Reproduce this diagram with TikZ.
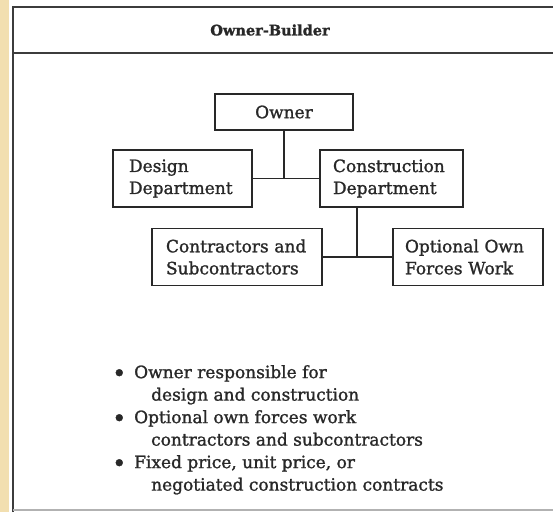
\documentclass[tikz,border=0pt]{standalone}
\usepackage{fontspec}
\setmainfont{DejaVu Serif}[RawFeature={embolden=1.3}]
\definecolor{tan}{RGB}{242,223,176}
\definecolor{ink}{RGB}{40,40,40}
\definecolor{rule}{RGB}{60,60,60}
\begin{document}
\begin{tikzpicture}[x=1pt,y=-1pt,
  box/.style={draw=ink, line width=1.8pt, minimum height=57pt, inner ysep=0pt,
    font=\fontsize{17}{22}\selectfont, text=ink},
  lbox/.style={box, align=left},
  conn/.style={draw=ink, line width=1.8pt},
  bul/.style={anchor=north west, align=left, inner sep=0pt, text=ink,
    font=\fontsize{17}{22.5}\selectfont}
]
\useasboundingbox (0,0) rectangle (553,512);
\fill[white] (0,0) rectangle (553,512);
\fill[tan] (0,0) rectangle (9,512);
% frame
\draw[rule, line width=2.5pt] (13,512) -- (13,7) -- (553,7);
\draw[rule, line width=2.5pt] (13,53) -- (553,53);
\draw[gray!60, line width=1.2pt] (13,510) -- (553,510);
\node[font=\bfseries\fontsize{14.5}{16}\selectfont, text=ink] (title) at (270,30) {Owner-Builder};
% boxes
\node[box, minimum width=138pt, minimum height=36pt] (owner) at (284,112) {Owner};
\node[lbox, text width=107pt, inner xsep=16pt] (design) at (182.5,178.5) {Design\\Department};
\node[lbox, text width=117pt, inner xsep=13pt] (constr) at (391.5,178.5) {Construction\\Department};
\node[lbox, text width=142pt, inner xsep=14pt] (contr) at (237,257) {Contractors and\\Subcontractors};
\node[lbox, text width=126pt, inner xsep=12pt] (optional) at (468,257) {Optional Own\\Forces Work};
% connectors
\draw[conn] (owner.south) -- (owner.south |- design.east);
\draw[conn] (design.east) -- (constr.west);
\coordinate (j2) at (357,257);
\draw[conn] (j2 |- constr.south) -- (j2);
\draw[conn] (contr.east) -- (optional.west);
% bullets
\newcommand{\bigdot}{\makebox[22pt][l]{\raisebox{-3.5pt}{\fontsize{24}{22.5}\selectfont•}}}
\node[bul] (b1) at (112,365) {\bigdot Owner responsible for\\\hspace{39pt}design and construction};
\node[bul] (b2) at (112,410) {\bigdot Optional own forces work\\\hspace{39pt}contractors and subcontractors};
\node[bul] (b3) at (112,455) {\bigdot Fixed price, unit price, or\\\hspace{39pt}negotiated construction contracts};
\end{tikzpicture}
\end{document}
